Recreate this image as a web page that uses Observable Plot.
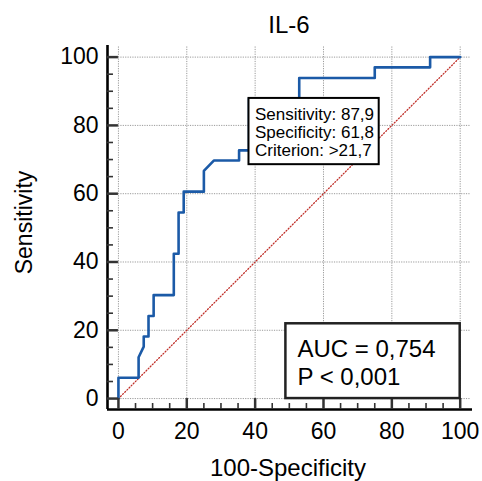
<!DOCTYPE html>
<html>
<head>
<meta charset="utf-8">
<script src="https://cdn.jsdelivr.net/npm/d3@7"></script>
<script src="https://cdn.jsdelivr.net/npm/@observablehq/plot@0.6"></script>
<style>
  html, body { margin: 0; padding: 0; background: #fff; }
</style>
</head>
<body>
<script>
// ROC curve points (100-Specificity, Sensitivity)
const fpr = [0, 0, 5.9, 5.9, 7.4, 7.4, 8.8, 8.8, 10.3, 10.3, 16.2, 16.2, 17.6, 17.6, 19.1, 19.1, 25.0, 25.0, 27.9, 35.3, 35.3, 38.2, 38.2, 52.9, 52.9, 75.0, 75.0, 91.2, 91.2, 100];
const tpr = [0, 6.1, 6.1, 12.1, 15.2, 18.2, 18.2, 24.2, 24.2, 30.3, 30.3, 42.4, 42.4, 54.5, 54.5, 60.6, 60.6, 66.7, 69.7, 69.7, 72.7, 72.7, 87.9, 87.9, 93.9, 93.9, 97.0, 97.0, 100, 100];
// reference diagonal
const refLine = [0, 100];
// ticks
const majorTicks = [0, 20, 40, 60, 80, 100];
const minorTicks = [5, 10, 15, 25, 30, 35, 45, 50, 55, 65, 70, 75, 85, 90, 95];
// texts
const title = "IL-6";
const xLabel = "100-Specificity";
const yLabel = "Sensitivity";
const criterionPoint = {fpr: 38.2, tpr: 87.9};
const criterionLines = ["Sensitivity: 87,9", "Specificity: 61,8", "Criterion: >21,7"];
const statLines = ["AUC = 0,754", "P < 0,001"];

const curve = fpr.map((x, i) => ({x, y: tpr[i]}));
const lo = -3.2, hiX = 103.6, hiY = 103.4, gridEnd = 103;
const font = "Liberation Sans, Arial, sans-serif";
const statBox = {x1: 49, x2: 100, y1: 0, y2: 21.9};

const chart = Plot.plot({
  width: 482,
  height: 481,
  marginLeft: 107,
  marginRight: 10,
  marginTop: 45,
  marginBottom: 72,
  style: {fontFamily: font, background: "#fff", color: "#000"},
  x: {domain: [lo, hiX], axis: null},
  y: {domain: [lo, hiY], axis: null},
  marks: [
    // grid
    Plot.ruleX(majorTicks, {x: d => d, y1: 0, y2: gridEnd, stroke: "#9a9a9a", strokeWidth: 1, strokeDasharray: "1.2,1.2"}),
    Plot.ruleY(majorTicks, {y: d => d, x1: 0, x2: gridEnd, stroke: "#9a9a9a", strokeWidth: 1, strokeDasharray: "1.2,1.2"}),
    // diagonal
    Plot.line(refLine, {x: d => d, y: d => d, stroke: "#c0302a", strokeWidth: 1.3, strokeDasharray: "1,2"}),
    // ROC curve
    Plot.line(curve, {x: "x", y: "y", stroke: "#1b5aa7", strokeWidth: 2.6}),
    // axis lines
    Plot.ruleX([lo], {y1: lo, y2: hiY, stroke: "#000", strokeWidth: 2.6}),
    Plot.ruleY([lo], {x1: lo, x2: hiX, stroke: "#000", strokeWidth: 2.6}),
    // major ticks (inward)
    Plot.ruleY(majorTicks, {y: d => d, x1: lo, x2: 0, stroke: "#333", strokeWidth: 2.5}),
    Plot.ruleX(majorTicks, {x: d => d, y1: lo, y2: 0, stroke: "#333", strokeWidth: 2.5}),
    // minor ticks
    Plot.ruleY(minorTicks, {y: d => d, x1: lo, x2: lo + 1.75, stroke: "#333", strokeWidth: 1.6}),
    Plot.ruleX(minorTicks, {x: d => d, y1: lo, y2: lo + 1.75, stroke: "#333", strokeWidth: 1.6}),
    // tick labels
    Plot.axisX({ticks: majorTicks, tickSize: 0, tickPadding: 13, fontSize: 23, label: null, tickFormat: d => String(d)}),
    Plot.axisY({ticks: majorTicks, tickSize: 0, tickPadding: 9, fontSize: 23, label: null, tickFormat: d => String(d)}),
    // criterion box
    Plot.rect([criterionPoint], {x1: d => d.fpr, x2: d => d.fpr + 38.1, y1: d => d.tpr - 19.4, y2: d => d.tpr, fill: "#fff", stroke: "#000", strokeWidth: 2}),
    Plot.text([criterionLines.join("\n")], {x: () => criterionPoint.fpr, y: () => criterionPoint.tpr, text: d => d, textAnchor: "start", lineAnchor: "top", lineHeight: 1.076, dx: 6, dy: 8.4, fontSize: 17, fill: "#000"}),
    // stats box
    Plot.rect([statBox], {x1: "x1", x2: "x2", y1: "y1", y2: "y2", fill: "#fff", stroke: "#222", strokeWidth: 2.5}),
    Plot.text([statLines.join("\n")], {x: () => statBox.x1, y: () => statBox.y2, text: d => d, textAnchor: "start", lineAnchor: "top", lineHeight: 1.196, dx: 11.5, dy: 12.5, fontSize: 24, fill: "#000"}),
    // titles
    Plot.text([title], {frameAnchor: "top", text: d => d, lineAnchor: "bottom", dy: -13, dx: -1, fontSize: 24, fill: "#000"}),
    Plot.text([xLabel], {frameAnchor: "bottom", text: d => d, lineAnchor: "bottom", dy: 66, dx: -2, fontSize: 24, fill: "#000"}),
    Plot.text([yLabel], {frameAnchor: "left", text: d => d, rotate: -90, textAnchor: "middle", lineAnchor: "bottom", dx: -76, dy: -5, fontSize: 23, fill: "#000"})
  ]
});

document.body.appendChild(chart);
</script>
</body>
</html>
